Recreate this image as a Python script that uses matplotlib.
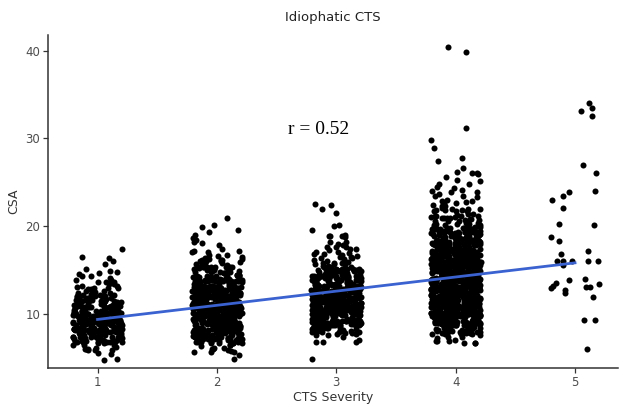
import numpy as np
import matplotlib
matplotlib.use("Agg")
import matplotlib.pyplot as plt

# ---- data ----
severity = [1, 2, 3, 4, 5]
tick_labels = ["1", "2", "3", "4", "5"]

# counts of CSA values per integer level, for the dense groups
csa_levels_1 = [5, 6, 7, 8, 9, 10, 11, 12, 13, 14, 15, 16, 17]
csa_counts_1 = [3, 12, 34, 55, 55, 48, 35, 24, 12, 8, 5, 4, 1]

csa_levels_2 = [5, 6, 7, 8, 9, 10, 11, 12, 13, 14, 15, 16, 17, 18, 19, 20, 21]
csa_counts_2 = [2, 12, 38, 62, 72, 78, 78, 72, 60, 42, 30, 16, 8, 4, 3, 3, 1]

csa_levels_3 = [5, 7, 8, 9, 10, 11, 12, 13, 14, 15, 16, 17, 18, 19, 20, 21, 22, 23]
csa_counts_3 = [1, 5, 25, 50, 62, 68, 68, 62, 50, 36, 16, 10, 7, 5, 3, 1, 2, 1]

csa_levels_4 = [7, 8, 9, 10, 11, 12, 13, 14, 15, 16, 17, 18, 19, 20, 21, 22, 23,
                24, 25, 26, 27, 28, 29, 30, 31, 40]
csa_counts_4 = [10, 30, 60, 85, 95, 100, 100, 96, 88, 78, 66, 54, 40, 28, 20, 13, 9,
                7, 4, 5, 2, 1, 1, 1, 1, 2]

# sparse group 5: individual values
csa_values_5 = [34.0, 33.5, 33.1, 32.6, 27.0, 26.0, 24.0, 23.0, 23.4, 23.9, 22.1,
                20.2, 20.1, 18.8, 18.3, 17.1, 16.8, 16.0, 16.0, 16.0, 16.0, 16.0,
                15.6, 13.4, 13.0, 13.2, 14.0, 13.8, 13.1, 12.7, 13.5, 12.9, 12.4,
                11.9, 9.3, 9.3, 6.0]

r_text = "r = 0.52"

# ---- build point table ----
def expand(levels, counts):
    return np.repeat(np.asarray(levels, float), counts)

groups_y = [expand(csa_levels_1, csa_counts_1),
            expand(csa_levels_2, csa_counts_2),
            expand(csa_levels_3, csa_counts_3),
            expand(csa_levels_4, csa_counts_4),
            np.asarray(csa_values_5, float)]

x = np.concatenate([np.full(len(yv), s, float) for s, yv in zip(severity, groups_y)])
y = np.concatenate(groups_y)
is_dense = np.concatenate([np.full(len(yv), g < 4) for g, yv in enumerate(groups_y)])

# jitter for display only (like geom_jitter), fixed seed
jit = np.random.default_rng(7)
jx = jit.uniform(-0.21, 0.21, len(x))
jy = np.where(is_dense, jit.uniform(-0.45, 0.45, len(x)), 0.0)

slope, intercept = np.polyfit(x, y, 1)

# ---- figure ----
fig = plt.figure(figsize=(6.2, 4.11), dpi=100)
ax = fig.add_axes([48 / 620, 1 - 368 / 411, 570 / 620, (368 - 35) / 411])

ax.scatter(x + jx, y + jy, s=19, c="black", linewidths=0, zorder=2)
xx = np.array([min(severity), max(severity)], float)
ax.plot(xx, intercept + slope * xx, color="#3a62d0", lw=2.0, zorder=3)

ax.text(2.855, 31.0, r_text, family="Liberation Serif", fontsize=14,
        ha="center", va="center", color="black")

ax.set_xlim(0.585, 5.36)
ax.set_ylim(3.8, 41.8)
ax.set_xticks(severity)
ax.set_xticklabels(tick_labels)
ax.set_yticks([10, 20, 30, 40])

for s in ["top", "right"]:
    ax.spines[s].set_visible(False)
for s in ["left", "bottom"]:
    ax.spines[s].set_color("#333333")
    ax.spines[s].set_linewidth(1.1)
ax.tick_params(length=3.5, width=0.9, color="#333333", labelsize=8.5,
               labelcolor="#4d4d4d", pad=2)

ax.set_xlabel("CTS Severity", fontsize=9, color="#333333", labelpad=2)
ax.set_ylabel("CSA", fontsize=9, color="#333333", labelpad=4)
fig.text((48 + 618) / 2 / 620, 1 - 18 / 411, "Idiophatic CTS", fontsize=9.5,
         ha="center", va="center", color="#222222")

fig.savefig("out.png", dpi=100)
